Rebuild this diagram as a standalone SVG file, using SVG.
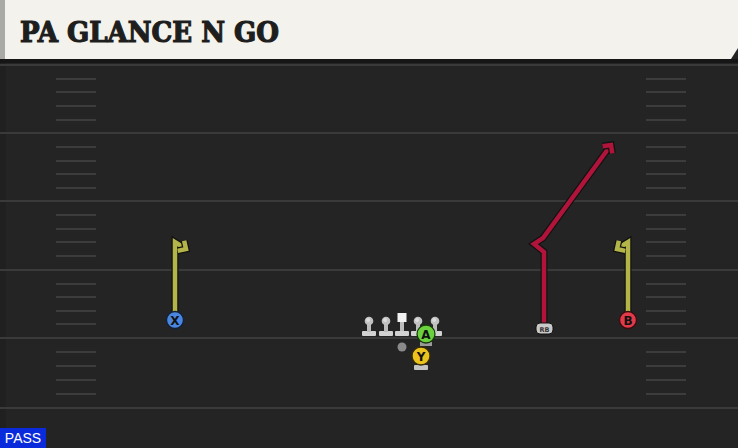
<svg xmlns="http://www.w3.org/2000/svg" width="738" height="448" viewBox="0 0 738 448">
<defs>
<style>
.yard{stroke:#3a3a3a;stroke-width:2}
.hash{stroke:#3c3c3c;stroke-width:2}
.route-out{fill:none;stroke:#121212;stroke-width:7;stroke-linejoin:miter;stroke-linecap:butt}
.ry{fill:none;stroke:#b4b548;stroke-width:4.5;stroke-linejoin:miter}
.rr{fill:none;stroke:#b0143a;stroke-width:4.5;stroke-linejoin:miter}
.lbl{font-family:"DejaVu Sans","Liberation Sans",sans-serif;font-weight:bold;font-size:12px;fill:#111;text-anchor:middle}
</style>
<marker id="ahY" viewBox="-12 -12 24 24" refX="0" refY="0" markerWidth="24" markerHeight="24" orient="auto" markerUnits="userSpaceOnUse">
<path d="M-6,-6 L0,0 L-6,6" fill="none" stroke="#121212" stroke-width="7" stroke-linejoin="miter"/>
<path d="M-6,-6 L0,0 L-6,6" fill="none" stroke="#b4b548" stroke-width="4.5" stroke-linejoin="miter"/>
</marker>
<marker id="ahR" viewBox="-12 -12 24 24" refX="0" refY="0" markerWidth="24" markerHeight="24" orient="auto" markerUnits="userSpaceOnUse">
<path d="M-6,-6 L0,0 L-6,6" fill="none" stroke="#121212" stroke-width="7" stroke-linejoin="miter"/>
<path d="M-6,-6 L0,0 L-6,6" fill="none" stroke="#b0143a" stroke-width="4.5" stroke-linejoin="miter"/>
</marker>
<g id="lineman">
<rect x="-7" y="10" width="14" height="5" rx="1" fill="#d2d2d2"/>
<rect x="-2" y="0" width="4" height="11" fill="#bcbcbc"/>
<circle cx="0" cy="0" r="4.3" fill="#c2c2c2"/>
<circle cx="-0.9" cy="-0.9" r="2" fill="#dcdcdc"/>
</g>
</defs>
<rect width="738" height="448" fill="#242424"/>
<rect x="0" y="59" width="6" height="389" fill="#202020"/>
<g id="field">
<line class="yard" x1="0" y1="65" x2="738" y2="65"/>
<line class="yard" x1="0" y1="133" x2="738" y2="133"/>
<line class="yard" x1="0" y1="201" x2="738" y2="201"/>
<line class="yard" x1="0" y1="270" x2="738" y2="270"/>
<line class="yard" x1="0" y1="338" x2="738" y2="338"/>
<line class="yard" x1="0" y1="408" x2="738" y2="408"/>
<g id="hashes-left">
<line class="hash" x1="56" y1="79" x2="96" y2="79"/><line class="hash" x1="56" y1="92" x2="96" y2="92"/><line class="hash" x1="56" y1="106" x2="96" y2="106"/><line class="hash" x1="56" y1="120" x2="96" y2="120"/>
<line class="hash" x1="56" y1="147" x2="96" y2="147"/><line class="hash" x1="56" y1="161" x2="96" y2="161"/><line class="hash" x1="56" y1="174" x2="96" y2="174"/><line class="hash" x1="56" y1="188" x2="96" y2="188"/>
<line class="hash" x1="56" y1="215" x2="96" y2="215"/><line class="hash" x1="56" y1="229" x2="96" y2="229"/><line class="hash" x1="56" y1="242" x2="96" y2="242"/><line class="hash" x1="56" y1="256" x2="96" y2="256"/>
<line class="hash" x1="56" y1="284" x2="96" y2="284"/><line class="hash" x1="56" y1="297" x2="96" y2="297"/><line class="hash" x1="56" y1="311" x2="96" y2="311"/><line class="hash" x1="56" y1="324" x2="96" y2="324"/>
<line class="hash" x1="56" y1="352" x2="96" y2="352"/><line class="hash" x1="56" y1="366" x2="96" y2="366"/><line class="hash" x1="56" y1="380" x2="96" y2="380"/><line class="hash" x1="56" y1="394" x2="96" y2="394"/>
</g>
<g id="hashes-right">
<line class="hash" x1="646" y1="79" x2="686" y2="79"/><line class="hash" x1="646" y1="92" x2="686" y2="92"/><line class="hash" x1="646" y1="106" x2="686" y2="106"/><line class="hash" x1="646" y1="120" x2="686" y2="120"/>
<line class="hash" x1="646" y1="147" x2="686" y2="147"/><line class="hash" x1="646" y1="161" x2="686" y2="161"/><line class="hash" x1="646" y1="174" x2="686" y2="174"/><line class="hash" x1="646" y1="188" x2="686" y2="188"/>
<line class="hash" x1="646" y1="215" x2="686" y2="215"/><line class="hash" x1="646" y1="229" x2="686" y2="229"/><line class="hash" x1="646" y1="242" x2="686" y2="242"/><line class="hash" x1="646" y1="256" x2="686" y2="256"/>
<line class="hash" x1="646" y1="284" x2="686" y2="284"/><line class="hash" x1="646" y1="297" x2="686" y2="297"/><line class="hash" x1="646" y1="311" x2="686" y2="311"/><line class="hash" x1="646" y1="324" x2="686" y2="324"/>
<line class="hash" x1="646" y1="352" x2="686" y2="352"/><line class="hash" x1="646" y1="366" x2="686" y2="366"/><line class="hash" x1="646" y1="380" x2="686" y2="380"/><line class="hash" x1="646" y1="394" x2="686" y2="394"/>
</g>
</g>
<g id="header">
<rect x="0" y="59" width="738" height="4" fill="#161616"/>
<path d="M4,0 H738 V48 L731,59 H4 Z" fill="#f4f2ec"/>
<rect x="0" y="0" width="5" height="59" fill="#a9aaa6"/>
<text x="20" y="42" font-family="'DejaVu Serif','Liberation Serif',serif" font-weight="bold" font-size="27" fill="#1e1e1e" stroke="#1e1e1e" stroke-width="1.2" textLength="259" lengthAdjust="spacingAndGlyphs">PA GLANCE N GO</text>
</g>
<g id="connectors">
<polyline class="route-out" points="175,318 175,242 186,249"/>
<polyline class="ry" points="175,318 175,242 186,249" marker-end="url(#ahY)"/>
<polyline class="route-out" points="628,318 628,242 617,249"/>
<polyline class="ry" points="628,318 628,242 617,249" marker-end="url(#ahY)"/>
<polyline class="route-out" points="544,324 544,252 534,244 543,238 611,145"/>
<polyline class="rr" points="544,324 544,252 534,244 543,238 611,145" marker-end="url(#ahR)"/>
</g>
<g id="LT"><use href="#lineman" x="369" y="321"/></g>
<g id="LG"><use href="#lineman" x="386" y="321"/></g>
<g id="C">
<rect x="400" y="318" width="4" height="13" fill="#bcbcbc"/>
<rect x="395" y="331" width="14" height="5" rx="1" fill="#d2d2d2"/>
<rect x="397.5" y="313" width="9" height="9" fill="#f2f2f2"/>
</g>
<g id="RG"><use href="#lineman" x="418" y="321"/></g>
<g id="RT"><use href="#lineman" x="435" y="321"/></g>
<g id="QB"><circle cx="402" cy="347" r="4.5" fill="#8a8a8a"/></g>
<g id="X">
<circle cx="175" cy="320" r="8.5" fill="#4a86e0" stroke="#12213a" stroke-width="1.3"/>
<text class="lbl" x="175" y="324.5">X</text>
</g>
<g id="B">
<circle cx="628" cy="320" r="8.5" fill="#e23a48" stroke="#3a0c10" stroke-width="1.3"/>
<text class="lbl" x="628" y="324.5">B</text>
</g>
<g id="RB">
<rect x="536" y="323" width="17" height="11" rx="4" fill="#c8c8c8" stroke="#111" stroke-width="1"/>
<text x="544.5" y="331.5" font-family="'DejaVu Sans','Liberation Sans',sans-serif" font-size="6.5" font-weight="bold" fill="#333" text-anchor="middle">RB</text>
</g>
<g id="A">
<rect x="420" y="342" width="12" height="4" fill="#9a9a9a"/>
<circle cx="426" cy="334" r="9" fill="#6ad13c" stroke="#173a0d" stroke-width="1.3"/>
<text class="lbl" x="426" y="338.5">A</text>
</g>
<g id="Y">
<rect x="414" y="365" width="14" height="5" rx="1" fill="#c4c4c4"/>
<circle cx="421" cy="356" r="9" fill="#ecc21e" stroke="#3a2e05" stroke-width="1.3"/>
<text class="lbl" x="421" y="360.5">Y</text>
</g>
<g id="pass">
<rect x="0" y="428" width="46" height="20" fill="#0a2bdb"/>
<text x="23" y="443" font-family="'Liberation Sans','DejaVu Sans',sans-serif" font-size="14" fill="#ffffff" text-anchor="middle">PASS</text>
</g>
</svg>
